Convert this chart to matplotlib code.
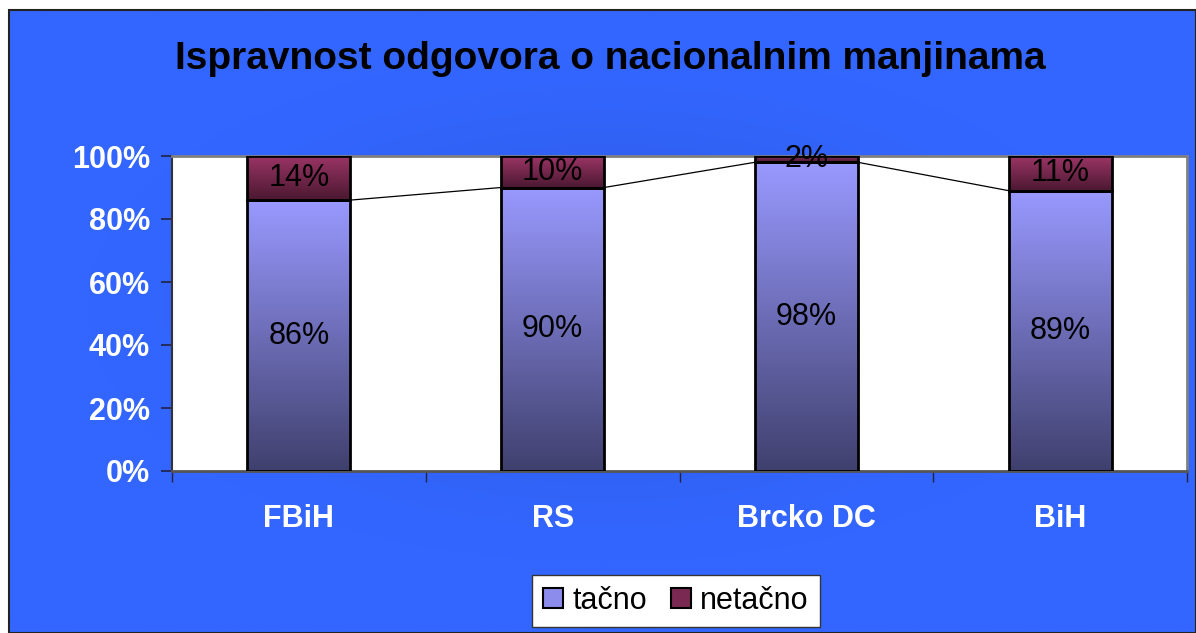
import matplotlib.pyplot as plt
import numpy as np
from matplotlib.colors import LinearSegmentedColormap
from matplotlib.patches import Rectangle

plt.rcParams['font.family'] = ['Liberation Sans', 'DejaVu Sans']

categories = ["FBiH", "RS", "Brcko DC", "BiH"]
tacno = [86, 90, 98, 89]
netacno = [14, 10, 2, 11]
series_names = ["tačno", "netačno"]
yticks = [0, 20, 40, 60, 80, 100]

tacno_cmap = LinearSegmentedColormap.from_list("tacno", ["#40406e", "#9999ff"])
netacno_cmap = LinearSegmentedColormap.from_list("netacno", ["#4a1830", "#9c3566"])

W, H = 1196, 633
fig = plt.figure(figsize=(W / 100, H / 100), dpi=100, facecolor="white")

# background: blue panel with a soft darker centre
bg = fig.add_axes([0, 0, 1, 1], zorder=-10)
bg.set_xlim(0, W)
bg.set_ylim(H, 0)
bg.axis("off")
yy, xx = np.mgrid[0:H:2, 0:W:2]
r = np.sqrt(((xx - 600) / 520.0) ** 2 + ((yy - 300) / 260.0) ** 2)
shade = np.clip(1 - r, 0, 1) ** 1.5
base = np.array([51, 102, 255]) / 255
dark = np.array([40, 84, 210]) / 255
img = base[None, None, :] * (1 - shade[..., None]) + dark[None, None, :] * shade[..., None]
bg.imshow(img, extent=[9, W, H, 10], aspect="auto", interpolation="bilinear")
bg.add_patch(Rectangle((9, 10), W - 9, H - 10, fill=False, edgecolor="#222222", lw=1.5))

ax = fig.add_axes([172 / W, 1 - 471 / H, 1015 / W, 315 / H])
ax.set_facecolor("white")
x = np.arange(len(categories))
width = 0.406


def gradient_bars(bars, cmap):
    grad = np.linspace(0, 1, 256).reshape(-1, 1)
    for b in bars:
        x0, y0 = b.get_x(), b.get_y()
        im = ax.imshow(grad, cmap=cmap, origin="lower", aspect="auto",
                       extent=[x0, x0 + b.get_width(), y0, y0 + b.get_height()],
                       zorder=2, interpolation="bilinear")
        im.set_clip_path(b)
        b.set_facecolor("none")


tac = np.array(tacno) / 100
net = np.array(netacno) / 100
b1 = ax.bar(x, tac, width, edgecolor="black", lw=2, zorder=3)
b2 = ax.bar(x, net, width, bottom=tac, edgecolor="black", lw=2, zorder=3)
gradient_bars(b1, tacno_cmap)
gradient_bars(b2, netacno_cmap)

# series lines between stacked bars
for i in range(len(categories) - 1):
    ax.plot([x[i] + width / 2, x[i + 1] - width / 2], [tac[i], tac[i + 1]],
            color="black", lw=0.9, zorder=2.5)

for i in range(len(categories)):
    ax.text(x[i], tac[i] / 2, f"{tacno[i]}%", ha="center", va="center",
            fontsize=22, color="black", zorder=5)
    ax.text(x[i], tac[i] + net[i] / 2, f"{netacno[i]}%", ha="center", va="center",
            fontsize=22, color="black", zorder=5, clip_on=False)

ax.set_xlim(-0.5, len(categories) - 0.5)
ax.set_ylim(0, 1)
ax.set_yticks(np.array(yticks) / 100)
ax.set_yticklabels([f"{t}%" for t in yticks], fontsize=22, fontweight="bold", color="white")
ax.set_xticks(x)
ax.set_xticklabels(categories, fontsize=22, fontweight="bold", color="white")
ax.tick_params(axis="x", length=0, pad=24)
ax.tick_params(axis="y", length=8, width=1.2, color="#222244", direction="out", pad=8)
ax.set_xticks(np.arange(-0.5, len(categories)), minor=True)
ax.tick_params(axis="x", which="minor", length=8, width=1, color="#222244", direction="out")
for side in ["top", "right"]:
    ax.spines[side].set_color("#808080")
    ax.spines[side].set_linewidth(2)
ax.spines["left"].set_color("#333333")
ax.spines["left"].set_linewidth(1.5)
ax.spines["bottom"].set_color("#555555")
ax.spines["bottom"].set_linewidth(2)

fig.text(610 / W, 1 - 59 / H, "Ispravnost odgovora o nacionalnim manjinama",
         ha="center", va="center", fontsize=28, fontweight="bold", color="black")

handles = [Rectangle((0, 0), 1, 1, facecolor="#8c8cec", edgecolor="black", lw=1.5),
           Rectangle((0, 0), 1, 1, facecolor="#7a2a52", edgecolor="black", lw=1.5)]
leg = fig.legend(handles, series_names, loc="center", bbox_to_anchor=(676 / W, 1 - 601 / H),
                 ncol=2, fontsize=22, frameon=True, fancybox=False, edgecolor="#333333",
                 facecolor="white", framealpha=1,
                 handlelength=0.65, handleheight=0.65, handletextpad=0.3, columnspacing=0.8,
                 borderpad=0.35)
leg.get_frame().set_linewidth(1)

fig.savefig("out.png", dpi=100, facecolor=fig.get_facecolor())
